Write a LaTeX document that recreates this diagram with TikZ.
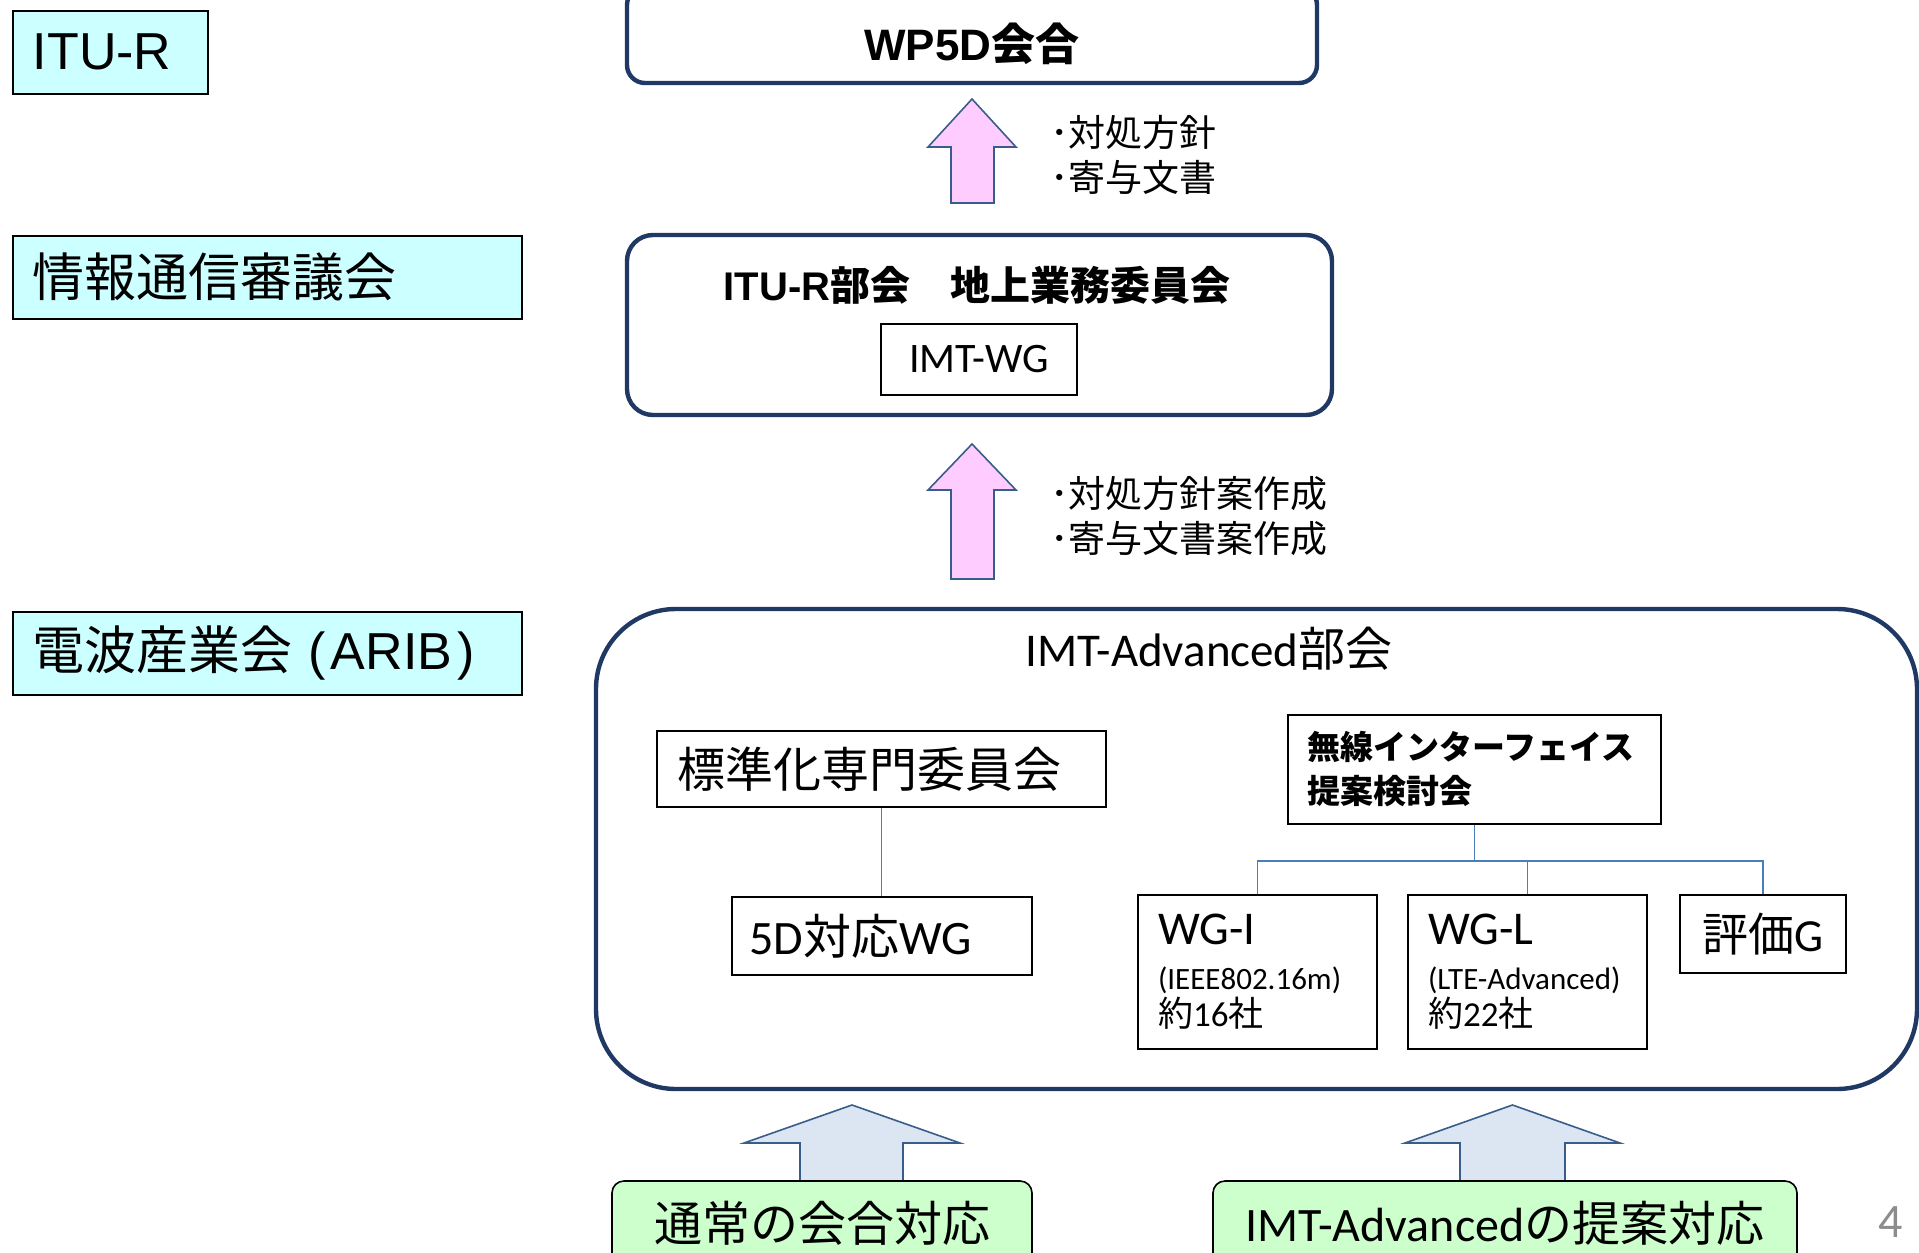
\documentclass[tikz,border=0pt]{standalone}
\usepackage{fontspec}
\setmainfont{Carlito}
\newfontfamily\jp{Noto Sans CJK JP}
\newfontfamily\arial{Liberation Sans}
\usepackage{tikz}
\usepackage{xcolor}
\usetikzlibrary{positioning}

\definecolor{skyfill}{HTML}{CCFFFF}
\definecolor{navyline}{HTML}{1F3864}
\definecolor{pinkfill}{HTML}{FFCCFF}
\definecolor{paleblue}{HTML}{DCE6F2}
\definecolor{arrowline}{HTML}{385D8A}
\definecolor{treeblue}{HTML}{4A7EBB}
\definecolor{mintfill}{HTML}{CCFFCC}
\definecolor{pagegray}{HTML}{8C8C8C}

\tikzset{
  levelbox/.style={draw, fill=skyfill, line width=0.8pt, anchor=north west, minimum height=41.5pt, inner xsep=10pt, align=left, font=\arial\fontsize{26}{30}\selectfont},
  meeting/.style={draw=navyline, line width=2.2pt, rounded corners=9pt},
  unit/.style={draw, line width=1pt, inner sep=0pt, font=\fontsize{24}{28}\selectfont},
  blockarrow/.style={draw=arrowline, line width=0.8pt},
  branch/.style={draw=treeblue, line width=0.8pt},
  task/.style={draw, fill=mintfill, rounded corners=6pt, line width=0.8pt, minimum height=42pt, font=\jp\fontsize{24}{28}\selectfont},
}

\begin{document}
\begin{tikzpicture}[x=0.5pt, y=-0.5pt]
\useasboundingbox (0,0) rectangle (1919,1253);

% Levels
\node[levelbox, text width=77.5pt] (itur) at (12,10) {ITU-R};
\node[levelbox, text width=234.5pt] (joho) at (12,235) {{\jp 情報通信審議会}};
\node[levelbox, text width=234.5pt] (arib) at (12,611) {{\jp 電波産業会}\hspace{0.3em}(\hspace{0.1em}ARIB\hspace{0.1em})};

% ITU-R meeting
\node[meeting, minimum width=345pt, minimum height=48pt, text height=25pt, text depth=0pt, font=\fontsize{22}{26}\selectfont\bfseries] (wpfived) at (972,35) {{\arial WP5D}{\jp 会合}};

% Japanese committee
\node[meeting, rounded corners=13pt, minimum width=352.5pt, minimum height=90pt] (itubu) at (979.5,325) {};
\node[font=\fontsize{20}{24}\selectfont\bfseries] (itutitle) at (977,285) {{\arial ITU-R}{\jp 部会　地上業務委員会}};
\node[unit, minimum width=98pt, minimum height=35.5pt, font=\fontsize{21}{25}\selectfont] (imtwg) at (979,359.5) {IMT-WG};

% Pink arrows
\draw[blockarrow, fill=pinkfill] (951,203) -- ++(0,-56) -- ++(-23,0) -- ++(44,-48) -- ++(44,48) -- ++(-22,0) -- ++(0,56) -- cycle;
\draw[blockarrow, fill=pinkfill] (951,579) -- ++(0,-89) -- ++(-23,0) -- ++(44,-46) -- ++(44,46) -- ++(-22,0) -- ++(0,89) -- cycle;
\node[anchor=west, align=left, inner sep=0pt, font=\jp\fontsize{18.5}{22.5}\selectfont] (policy) at (1050,154.5) {･対処方針\\･寄与文書};
\node[anchor=west, align=left, inner sep=0pt, font=\jp\fontsize{18.5}{22.5}\selectfont] (draft) at (1050,516) {･対処方針案作成\\･寄与文書案作成};

% IMT-Advanced
\node[meeting, rounded corners=40pt, minimum width=660.5pt, minimum height=240pt] (imtadv) at (1256.5,849) {};
\node[font=\fontsize{23.5}{28}\selectfont] (imttitle) at (1209,649) {IMT-Advanced{\jp 部会}};

% Left branch
\node[unit, minimum width=224.5pt, minimum height=38pt, text width=204.5pt, inner xsep=10pt, align=left] (hyojun) at (881.5,769) {{\jp 標準化専門委員会}};
\node[unit, minimum width=150pt, minimum height=39pt, text width=132pt, inner xsep=9pt, align=left, below=44pt of hyojun] (wgfived) {5D{\jp 対応}WG};
\draw[branch] (hyojun.south) -- (wgfived.north);

% Right branch
\node[unit, minimum height=54.5pt, text width=167.5pt, inner xsep=9.5pt, align=left, font=\jp\fontsize{16.5}{22}\selectfont\bfseries] (musen) at (1474.5,769.5) {無線インターフェイス\\提案検討会};
\node[unit, minimum height=77pt, text width=99.5pt, inner xsep=10pt, align=left, font=\fontsize{15.5}{18.5}\selectfont] (wgi) at (1257.5,972) {{\fontsize{23.5}{28}\selectfont WG-I}\\[4pt](IEEE802.16m)\\{\fontsize{17.5}{20}\selectfont{\jp 約}16{\jp 社}}};
\node[unit, minimum height=77pt, text width=99.5pt, inner xsep=10pt, align=left, font=\fontsize{15.5}{18.5}\selectfont, right=14.5pt of wgi] (wgl) {{\fontsize{23.5}{28}\selectfont WG-L}\\[4pt](LTE-Advanced)\\{\fontsize{17.5}{20}\selectfont{\jp 約}22{\jp 社}}};
\node[unit, minimum width=83pt, minimum height=39pt, font=\fontsize{23}{27}\selectfont, right=15.5pt of wgl.north east, anchor=north west] (hyoka) {{\jp 評価}G};
\draw[branch] (musen.south) -- ++(0,36) coordinate (fork);
\draw[branch] (fork) -| (wgi.north);
\draw[branch] (fork) -| (wgl.north);
\draw[branch] (fork) -| (hyoka.north);

% Inputs
\draw[blockarrow, fill=paleblue] (800,1181) -- ++(0,-38) -- ++(-56,0) -- ++(108,-38) -- ++(108,38) -- ++(-57,0) -- ++(0,38) -- cycle;
\draw[blockarrow, fill=paleblue] (1460,1181) -- ++(0,-38) -- ++(-55,0) -- ++(107.5,-38) -- ++(107.5,38) -- ++(-55,0) -- ++(0,38) -- cycle;
\node[task, minimum width=210pt] (tsujo) at (822,1223) {通常の会合対応};
\node[task, minimum width=292pt, font=\fontsize{24}{28}\selectfont] (teian) at (1505,1223) {IMT-Advanced{\jp の提案対応}};

\node[text=pagegray, font=\fontsize{24}{28}\selectfont] (pagenum) at (1891,1222) {4};
\end{tikzpicture}
\end{document}
